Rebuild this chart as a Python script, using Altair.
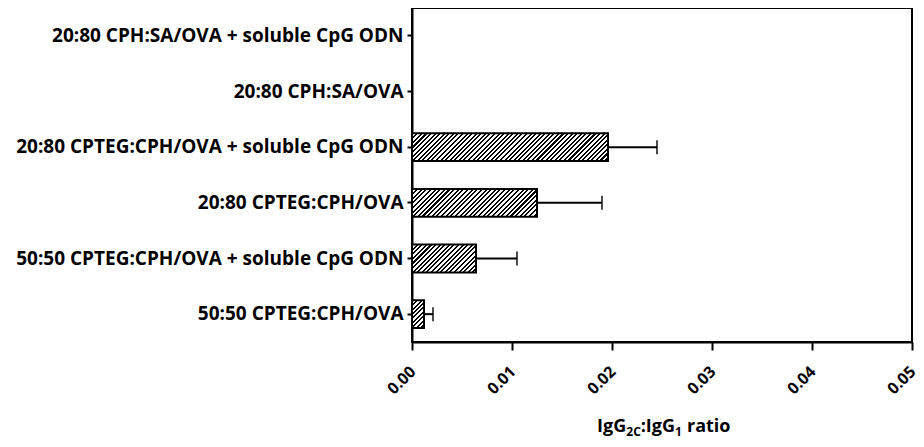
import altair as alt
import pandas as pd

categories = [
    "20:80 CPH:SA/OVA + soluble CpG ODN",
    "20:80 CPH:SA/OVA",
    "20:80 CPTEG:CPH/OVA + soluble CpG ODN",
    "20:80 CPTEG:CPH/OVA",
    "50:50 CPTEG:CPH/OVA + soluble CpG ODN",
    "50:50 CPTEG:CPH/OVA",
]
values = [None, None, 0.0196, 0.0125, 0.0064, 0.0012]
errors = [None, None, 0.0049, 0.0065, 0.0041, 0.0009]
x_ticks = [0.0, 0.01, 0.02, 0.03, 0.04, 0.05]

# layout / style
W_PLOT, H_PLOT = 500, 334
X_MAX = 0.05
PAD_INNER, PAD_OUTER = 0.5, 0.25
FONT = "Open Sans"

df = pd.DataFrame({"cat": categories, "value": values, "err": errors})
df["upper"] = df["value"] + df["err"]
bars_df = df.dropna().reset_index(drop=True)

xscale = alt.Scale(domain=[0, X_MAX], nice=False, zero=True)
yscale = alt.Scale(domain=categories, paddingInner=PAD_INNER, paddingOuter=PAD_OUTER)

x_enc = alt.X(
    "value:Q",
    scale=xscale,
    axis=alt.Axis(
        values=x_ticks, format=".2f", labelAngle=-45, labelAlign="right",
        labelBaseline="top", labelPadding=13, labelOffset=-5, tickSize=8,
        title=None, grid=False,
    ),
)
y_enc = alt.Y(
    "cat:N",
    scale=yscale,
    sort=categories,
    axis=alt.Axis(title=None, tickSize=5, labelPadding=4, labelLimit=600, grid=False),
)

step = H_PLOT / (len(categories) - PAD_INNER + 2 * PAD_OUTER)
bar_h = step * (1 - PAD_INNER)


def hatch(value, period=4.6, frac=0.45):
    w = value / X_MAX * W_PLOT
    h = bar_h
    s = (w + h) * w / (w * w + h * h)
    n = max(1, int(round((w + h) / period)))
    stops = []
    for k in range(n):
        a = k / n
        b = (k + frac) / n
        c = (k + 1) / n
        stops += [
            alt.GradientStop(offset=a, color="black"),
            alt.GradientStop(offset=b, color="black"),
            alt.GradientStop(offset=b, color="white"),
            alt.GradientStop(offset=c, color="white"),
        ]
    return alt.LinearGradient(gradient="linear", stops=stops, x1=0, y1=0, x2=s, y2=s * h / w)


layers = []
for i, row in bars_df.iterrows():
    sub = bars_df.iloc[[i]]
    layers.append(
        alt.Chart(sub)
        .mark_bar(fill=hatch(row["value"]), stroke="black", strokeWidth=2)
        .encode(x=x_enc, y=y_enc)
    )

err_rule = alt.Chart(bars_df).mark_rule(color="black", strokeWidth=2).encode(
    x=alt.X("value:Q", scale=xscale), x2="upper:Q", y=alt.Y("cat:N", scale=yscale)
)
err_cap = alt.Chart(bars_df).mark_tick(color="black", thickness=2, size=14).encode(
    x=alt.X("upper:Q", scale=xscale), y=alt.Y("cat:N", scale=yscale)
)

one = pd.DataFrame({"a": [0]})
title_parts = [
    ("IgG", 18, 185.0, 424),
    ("2C", 12, 214.3, 428),
    (":IgG", 18, 228.7, 424),
    ("1", 12, 263.1, 428),
    ("ratio", 18, 275.0, 424),
]
title_layers = [
    alt.Chart(one)
    .mark_text(text=t, fontSize=fs, font=FONT, fontWeight="bold", align="left",
               baseline="alphabetic", color="black")
    .encode(x=alt.value(px), y=alt.value(py))
    for t, fs, px, py in title_parts
]

chart = (
    alt.layer(err_rule, err_cap, *layers, *title_layers)
    .properties(
        width=W_PLOT,
        height=H_PLOT,
        autosize=alt.AutoSizeParams(type="none"),
        padding={"left": 404, "top": 0, "right": 4, "bottom": 97},
    )
    .configure_view(stroke="black", strokeWidth=2)
    .configure_axis(
        domainColor="black", domainWidth=2, tickColor="black", tickWidth=2,
        labelColor="black", labelFont=FONT, labelFontWeight="bold",
    )
    .configure_axisY(labelFontSize=19)
    .configure_axisX(labelFontSize=16)
)

chart.save("out.html", embed_options={"renderer": "svg", "actions": False})
